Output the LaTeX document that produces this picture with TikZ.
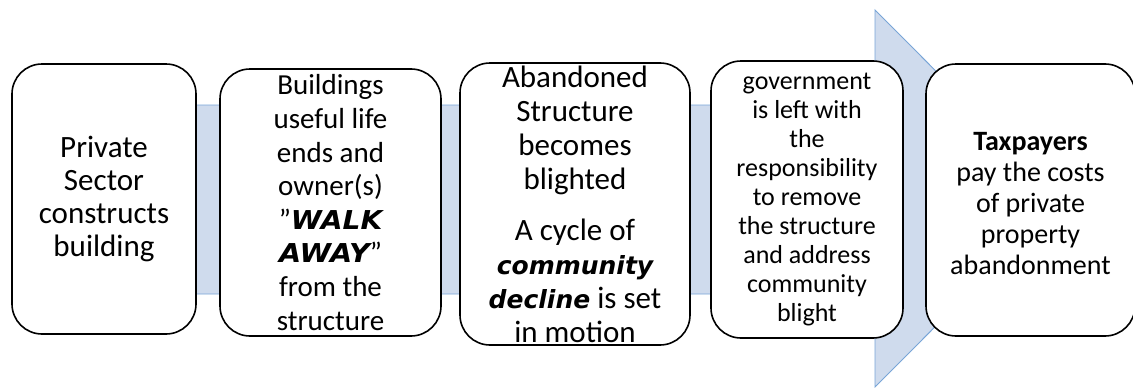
\documentclass[tikz,border=0pt]{standalone}
\usepackage{fontspec}
\usepackage{graphicx}
\setmainfont{Carlito}
\newfontfamily\heavyfont{DejaVu Sans}
\definecolor{bandfill}{RGB}{207,219,237}
\definecolor{bandedge}{RGB}{120,165,215}
\tikzset{
  stepbox/.style={draw=black, fill=white, line width=1.6pt, rounded corners=30pt, inner sep=0pt},
  steptext/.style={align=center, inner sep=0pt, text=black},
  band/.style={fill=bandfill, draw=bandedge, line width=0.9pt}
}
\newcommand{\heavy}[2]{{\heavyfont\fontsize{#1}{34}\selectfont\bfseries\itshape #2}}
\begin{document}
\begin{tikzpicture}[x=1pt,y=-1pt]
\useasboundingbox (0,0) rectangle (1133,388);
% background arrow
\path[band] (100,105) -- (875,105) -- (875,10) -- (1063,198.5) -- (875,387) -- (875,294) -- (100,294) -- cycle;
% boxes
\node[stepbox, minimum width=184pt, minimum height=270pt] (b1) at (104,199) {};
\node[stepbox, minimum width=221pt, minimum height=267pt] (b2) at (330.5,202.5) {};
\node[stepbox, minimum width=230pt, minimum height=282pt] (b3) at (575,204) {};
\node[stepbox, minimum width=192pt, minimum height=277pt] (b4) at (807,199.5) {};
\node[stepbox, minimum width=209pt, minimum height=272pt] (b5) at (1030.5,200) {};
% texts
\node[steptext, font=\fontsize{31}{33.3}\selectfont] (t1) at (b1.center) {Private\\Sector\\constructs\\building};
\node[steptext, font=\fontsize{29}{33.6}\selectfont] (t2) at (b2.center) {Buildings\\useful life\\ends and\\owner(s)\\\symbol{34}\scalebox{1.08}[1]{\heavy{26}{WALK}}\\\scalebox{1.1}[1]{\heavy{26}{AWAY}}”\\from the\\structure};
\node[steptext, font=\fontsize{31}{34}\selectfont] (t3) at (b3.center) {Abandoned\\Structure\\becomes\\blighted\\[17pt]A cycle of\\\heavy{25}{community}\\\heavy{25}{decline} is set\\in motion};
\node[steptext, font=\fontsize{26}{29.1}\selectfont] (t4) at (b4.center) {government\\is left with\\the\\responsibility\\to remove\\the structure\\and address\\community\\blight};
\node[steptext, font=\fontsize{28}{31}\selectfont] (t5) at ([yshift=-4pt]b5.center) {\textbf{Taxpayers}\\pay the costs\\of private\\property\\abandonment};
\end{tikzpicture}
\end{document}
